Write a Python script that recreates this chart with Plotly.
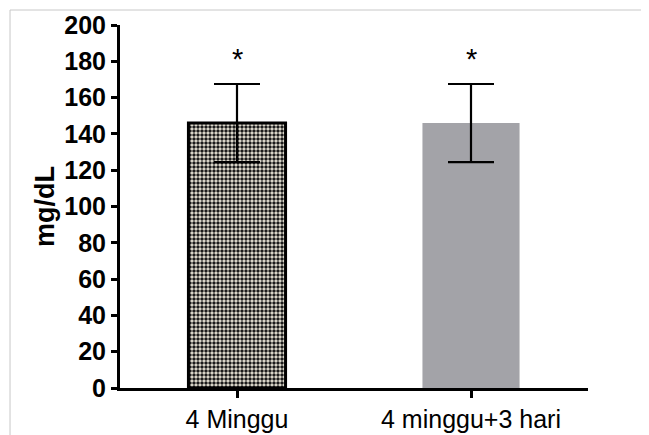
import plotly.graph_objects as go

categories = ["4 Minggu", "4 minggu+3 hari"]
means = [146, 146]
errors = [21.5, 21.5]
sig_labels = ["*", "*"]
sig_y = [181, 181]
y_ticks = [0, 20, 40, 60, 80, 100, 120, 140, 160, 180, 200]

fig = go.Figure()

fig.add_trace(go.Bar(
    x=[categories[0]], y=[means[0]],
    error_y=dict(type="data", array=[errors[0]], color="black", thickness=2.2, width=23),
    marker=dict(
        color="#efebdc",
        line=dict(color="black", width=3),
        pattern=dict(shape=".", fgcolor="#1a1a1a", bgcolor="#efebdc", size=4, solidity=0.6, fillmode="replace"),
    ),
    width=0.415,
    showlegend=False,
))
fig.add_trace(go.Bar(
    x=[categories[1]], y=[means[1]],
    error_y=dict(type="data", array=[errors[1]], color="black", thickness=2.2, width=23),
    marker=dict(color="#a3a3a8", line=dict(width=0)),
    width=0.415,
    showlegend=False,
))

for c, lab, yv in zip(categories, sig_labels, sig_y):
    fig.add_annotation(x=c, y=yv, text=lab, showarrow=False,
                       font=dict(family="Liberation Sans, Arial", size=29, color="black"),
                       yanchor="middle")

# outer thin frame (top and left)
fig.add_shape(type="line", xref="paper", yref="paper", x0=-0.235, x1=1.2, y0=1.0413, y1=1.0413,
              line=dict(color="#c8c8c8", width=1))
fig.add_shape(type="line", xref="paper", yref="paper", x0=-0.235, x1=-0.235, y0=1.0413, y1=-0.2,
              line=dict(color="#c8c8c8", width=1))

# page body has an 8px default margin, so the figure is sized to fit the window
fig.update_layout(
    width=641, height=427,
    margin=dict(l=112, r=61, t=17, b=47, autoexpand=False),
    plot_bgcolor="white", paper_bgcolor="white",
    barmode="overlay",
    font=dict(family="Liberation Sans, Arial", color="black"),
)
fig.update_xaxes(
    type="category", range=[-0.5, 1.5], automargin=False,
    showline=True, linecolor="black", linewidth=3,
    ticks="outside", ticklen=7, tickwidth=2.5, tickcolor="black",
    tickfont=dict(size=25, color="black"),
    showgrid=False, zeroline=False,
)
fig.update_yaxes(
    range=[0, 200], tickvals=y_ticks, automargin=False,
    showline=True, linecolor="black", linewidth=3,
    ticks="outside", ticklen=6, tickwidth=2.5, tickcolor="black",
    tickfont=dict(size=25, color="black", weight="bold"),
    title=dict(text="mg/dL", font=dict(size=27, weight="bold", color="black"), standoff=2),
    showgrid=False, zeroline=False,
)

fig.write_html("out.html")
